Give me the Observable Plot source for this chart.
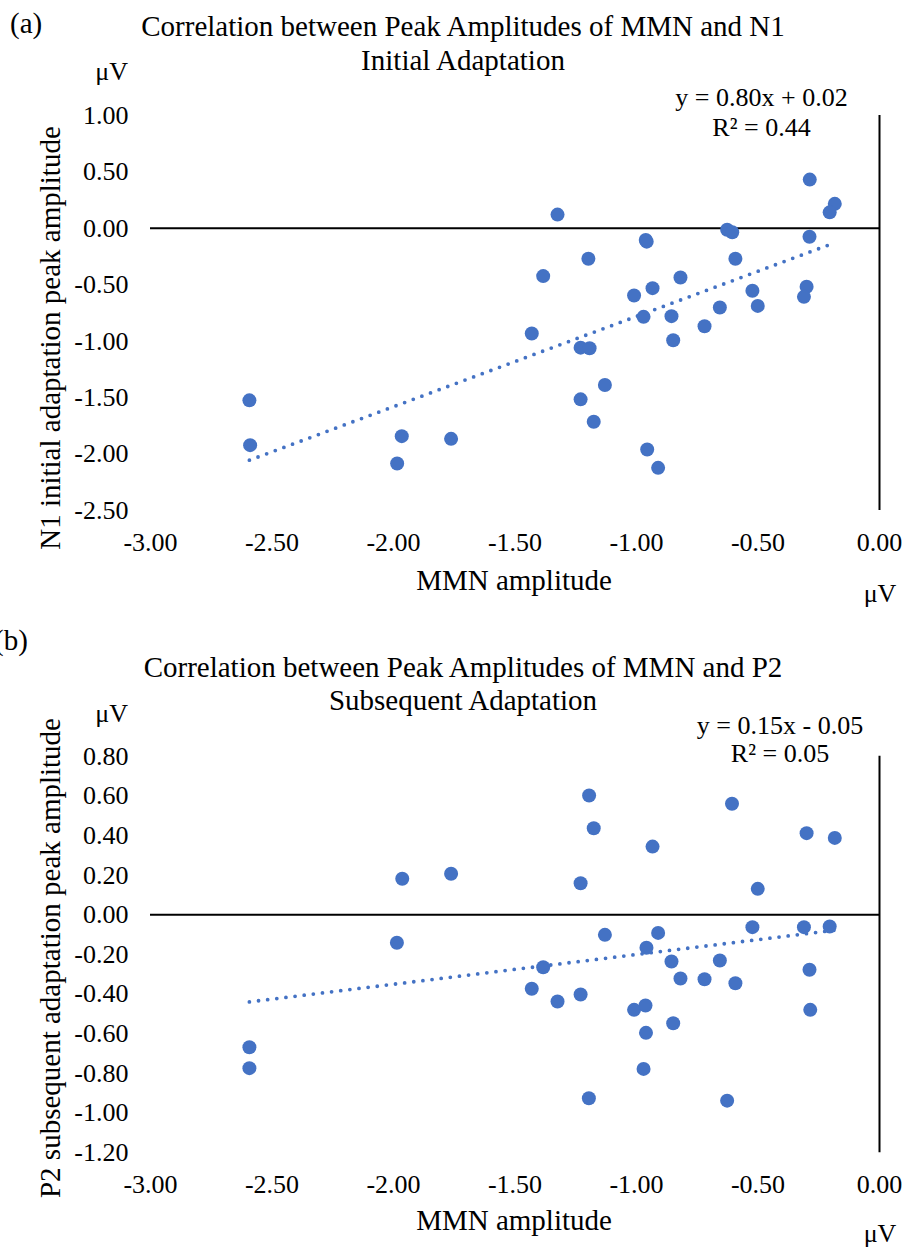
<!DOCTYPE html>
<html>
<head>
<meta charset="utf-8">
<script src="https://cdn.jsdelivr.net/npm/d3@7"></script>
<script src="https://cdn.jsdelivr.net/npm/@observablehq/plot@0.6"></script>
<style>
  html, body { margin: 0; padding: 0; background: #fff; overflow: hidden; }
  #page { position: relative; width: 904px; height: 1250px; overflow: hidden; background: #fff; }
  .panel { position: absolute; left: 0; }
  .txt { position: absolute; white-space: nowrap; line-height: 1; color: #000;
         font-family: "Liberation Serif", "Times New Roman", serif; }
</style>
</head>
<body>
<div id="page"></div>
<script>
// ---------- data ----------
const xTicks = [-3.0, -2.5, -2.0, -1.5, -1.0, -0.5, 0.0];
const yTicksA = [-2.5, -2.0, -1.5, -1.0, -0.5, 0.0, 0.5, 1.0];
const yTicksB = [-1.2, -1.0, -0.8, -0.6, -0.4, -0.2, 0.0, 0.2, 0.4, 0.6, 0.8];

// Panel (a): MMN amplitude vs N1 initial adaptation peak amplitude
const mmnA = [-2.593, -2.590, -1.966, -1.985, -1.763, -0.287, -0.184, -0.205, -1.325, -0.627,
              -0.606, -0.288, -0.962, -0.958, -1.198, -0.593, -1.384, -0.819, -0.934, -0.300,
              -1.010, -0.523, -0.311, -0.501, -0.657, -0.971, -0.856, -0.720, -0.849, -1.431,
              -1.230, -1.193, -1.130, -1.230, -1.176, -0.956, -0.911];
const n1A  = [-1.524, -1.921, -1.841, -2.083, -1.865, 0.432, 0.217, 0.142, 0.122, -0.012,
              -0.035, -0.074, -0.103, -0.118, -0.269, -0.269, -0.423, -0.435, -0.530, -0.518,
              -0.595, -0.553, -0.607, -0.687, -0.701, -0.784, -0.778, -0.867, -0.991, -0.932,
              -1.057, -1.062, -1.388, -1.515, -1.714, -1.959, -2.122];

// Panel (b): MMN amplitude vs P2 subsequent adaptation peak amplitude
const mmnB = [-1.964, -1.763, -1.986, -2.593, -2.593, -1.195, -0.607, -1.176, -0.300, -0.184,
              -0.934, -1.230, -0.501, -0.523, -0.311, -0.205, -1.130, -0.911, -0.959, -1.384,
              -0.856, -0.657, -0.288, -0.819, -0.720, -0.593, -1.431, -1.230, -1.325, -1.010,
              -0.963, -0.285, -0.849, -0.961, -0.971, -1.196, -0.627];
const p2B  = [0.182, 0.207, -0.141, -0.668, -0.773, 0.602, 0.560, 0.437, 0.412, 0.388,
              0.344, 0.159, 0.131, -0.062, -0.062, -0.059, -0.101, -0.091, -0.166, -0.264,
              -0.235, -0.230, -0.277, -0.321, -0.325, -0.345, -0.373, -0.402, -0.437, -0.479,
              -0.457, -0.479, -0.547, -0.595, -0.777, -0.925, -0.937];

// Excel trendline coefficients
const fitA = [0.80, 0.02];
const fitB = [0.15, -0.05];

// ---------- helpers ----------
const BLUE = "#4472C4";
const FONT = '"Liberation Serif", "Times New Roman", serif';
const page = document.getElementById("page");

function txt(text, x, baseline, size, anchor = "middle") {
  const el = document.createElement("div");
  el.className = "txt";
  el.textContent = text;
  el.style.fontSize = size + "px";
  el.style.top = (baseline - 0.8375 * size) + "px";
  if (anchor === "middle") { el.style.left = x + "px"; el.style.transform = "translateX(-50%)"; }
  else if (anchor === "end") { el.style.right = (904 - x) + "px"; }
  else { el.style.left = x + "px"; }
  page.appendChild(el);
}
function vtxt(text, cx, cy, size) {
  const el = document.createElement("div");
  el.className = "txt";
  el.textContent = text;
  el.style.fontSize = size + "px";
  el.style.left = cx + "px";
  el.style.top = cy + "px";
  el.style.transform = "translate(-50%,-50%) rotate(-90deg)";
  page.appendChild(el);
}

function panel({xs, ys, fit, yTicks, yDomain, top, height, marginTop, marginBottom}) {
  const pts = xs.map((x, i) => ({x, y: ys[i]}));
  const [x0, x1] = d3.extent(xs);
  const trend = [x0, x1].map(x => ({x, y: fit[0] * x + fit[1]}));
  const chart = Plot.plot({
    width: 904,
    height,
    marginTop,
    marginBottom,
    marginLeft: 150,
    marginRight: 25,
    style: {fontFamily: FONT, fontSize: "26px", color: "#000", background: "transparent", overflow: "visible"},
    x: {domain: [-3, 0], ticks: xTicks, tickFormat: d => d.toFixed(2), tickSize: 0, tickPadding: 22, label: null},
    y: {domain: yDomain, ticks: yTicks, tickFormat: d => d.toFixed(2), tickSize: 0, tickPadding: 22, label: null},
    marks: [
      Plot.ruleY([0], {stroke: "#000", strokeWidth: 2}),
      Plot.ruleX([0], {stroke: "#000", strokeWidth: 2}),
      Plot.line(trend, {x: "x", y: "y", stroke: BLUE, strokeWidth: 3.8, strokeDasharray: "0 9.2", strokeLinecap: "round"}),
      Plot.dot(pts, {x: "x", y: "y", r: 7, fill: BLUE, stroke: "none"})
    ]
  });
  const wrap = document.createElement("div");
  wrap.className = "panel";
  wrap.style.top = top + "px";
  wrap.appendChild(chart);
  page.appendChild(wrap);
}

// ---------- panel (a) ----------
panel({xs: mmnA, ys: n1A, fit: fitA, yTicks: yTicksA, yDomain: [-2.5, 1.0],
       top: 0, height: 640, marginTop: 115, marginBottom: 130});
txt("(a)", 10, 33, 29, "start");
txt("Correlation between Peak Amplitudes of MMN and N1", 463, 36.7, 29);
txt("Initial Adaptation", 463, 70, 29);
txt("μV", 128, 81, 26, "end");
txt("y = 0.80x + 0.02", 761.5, 106.7, 26);
txt("R² = 0.44", 761.5, 136.7, 26);
txt("MMN amplitude", 514, 590, 29);
txt("μV", 880, 603, 26);
vtxt("N1 initial adaptation peak amplitude", 50, 338, 29);

// ---------- panel (b) ----------
panel({xs: mmnB, ys: p2B, fit: fitB, yTicks: yTicksB, yDomain: [-1.2, 0.8],
       top: 640, height: 610, marginTop: 115.7, marginBottom: 97.7});
txt("(b)", -6, 650, 29, "start");
txt("Correlation between Peak Amplitudes of MMN and P2", 463, 677.4, 29);
txt("Subsequent Adaptation", 463, 710.7, 29);
txt("μV", 128, 723, 26, "end");
txt("y = 0.15x - 0.05", 780, 735, 26);
txt("R² = 0.05", 780, 763, 26);
txt("MMN amplitude", 514, 1230.5, 29);
txt("μV", 880, 1243, 26);
vtxt("P2 subsequent adaptation peak amplitude", 50, 958, 29);
</script>
</body>
</html>
